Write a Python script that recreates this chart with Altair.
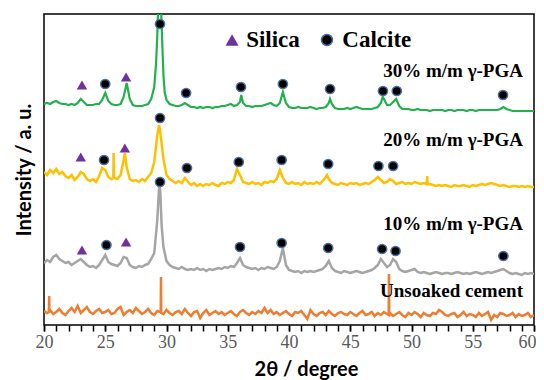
import altair as alt
import numpy as np
import pandas as pd

# 2-theta sampling grid (degrees)
grid = [round(20 + 0.25 * i, 2) for i in range(161)]

# ---- intensities (a.u., already offset per sample) ----
green_y = [
    221, 222, 221, 223, 224, 222, 221, 221, 220, 221, 220, 222, 226, 223, 220, 220, 220, 221, 221, 225,
    232, 224, 221, 220, 220, 221, 228, 242, 226, 220, 219, 219, 219, 220, 221, 226, 238, 290, 335, 250,
    225, 221, 220, 219, 219, 220, 222, 220, 218, 218, 217, 218, 217, 218, 218, 217, 218, 218, 219, 219,
    220, 221, 219, 220, 223, 222, 219, 219, 218, 219, 219, 219, 220, 221, 222, 220, 219, 222, 233, 222,
    218, 217, 217, 218, 217, 217, 217, 218, 217, 216, 217, 217, 218, 222, 221, 217, 216, 216, 216, 217,
    216, 217, 218, 217, 216, 216, 216, 216, 217, 218, 222, 226, 220, 220, 223, 226, 219, 216, 216, 216,
    215, 215, 216, 215, 215, 215, 214, 215, 215, 215, 215, 214, 215, 215, 214, 215, 215, 215, 214, 215,
    215, 214, 215, 215, 215, 215, 215, 215, 215, 216, 218, 216, 215, 214, 214, 214, 214, 214, 214, 214,
    214,
]
green_px = [29.15, 29.35, 29.45, 29.6, 29.85, 36.1, 43.35, 47.65]
green_py = [262, 330, 345, 300, 233, 230, 226, 228]

yellow_y = [
    153, 150, 155, 152, 156, 151, 153, 149, 147, 150, 145, 148, 153, 151, 146, 144, 146, 143, 149, 157,
    155, 148, 146, 147, 146, 150, 165, 158, 146, 144, 145, 143, 146, 144, 148, 152, 163, 190, 192, 166,
    150, 146, 144, 142, 144, 142, 147, 143, 140, 142, 139, 141, 139, 141, 140, 142, 140, 139, 142, 141,
    143, 142, 145, 156, 150, 143, 142, 141, 143, 141, 142, 140, 143, 142, 144, 143, 146, 155, 147, 142,
    141, 143, 141, 142, 140, 143, 141, 142, 141, 143, 141, 144, 148, 146, 142, 141, 140, 142, 141, 140,
    142, 141, 142, 140, 141, 142, 141, 143, 145, 148, 145, 142, 143, 146, 144, 141, 142, 143, 141, 142,
    141, 143, 142, 141, 142, 141, 141, 140, 139, 140, 139, 140, 139, 138, 140, 139, 139, 140, 139, 138,
    140, 139, 140, 141, 140, 141, 142, 141, 140, 139, 140, 139, 138, 139, 139, 138, 139, 138, 139, 138,
    138,
]
yellow_px = [25.66, 25.68, 25.70, 26.6, 29.4, 43.1, 51.28, 51.31]
yellow_py = [147, 172, 147, 172, 200, 150, 149, 141]

gray_y = [
    62, 65, 63, 68, 70, 66, 64, 62, 63, 60, 62, 64, 66, 63, 60, 58, 59, 57, 60, 65,
    70, 63, 61, 60, 59, 62, 68, 67, 60, 58, 57, 59, 58, 60, 61, 66, 72, 105, 132, 78,
    64, 60, 58, 57, 56, 58, 56, 55, 56, 55, 57, 55, 56, 54, 56, 55, 56, 57, 56, 58,
    57, 59, 58, 62, 67, 60, 58, 57, 56, 57, 55, 57, 56, 58, 57, 56, 58, 64, 77, 60,
    55, 54, 53, 54, 52, 54, 53, 54, 53, 54, 55, 56, 59, 64, 57, 54, 53, 52, 54, 53,
    52, 53, 54, 53, 52, 53, 54, 55, 57, 60, 66, 62, 58, 60, 66, 63, 56, 54, 53, 54,
    55, 56, 53, 52, 53, 52, 51, 52, 53, 52, 51, 52, 52, 51, 52, 53, 52, 51, 52, 51,
    52, 53, 52, 51, 52, 53, 52, 53, 54, 55, 56, 54, 52, 51, 52, 51, 50, 52, 51, 52,
    51,
]
gray_px = [29.35, 29.42, 29.6]
gray_py = [128, 142, 100]

orange_y = [
    14, 12, 15, 11, 13, 16, 12, 10, 14, 17, 13, 19, 12, 15, 18, 13, 11, 14, 16, 12,
    13, 15, 11, 12, 16, 18, 10, 13, 15, 12, 17, 14, 11, 13, 16, 12, 10, 14, 13, 11,
    15, 12, 10, 13, 14, 11, 16, 12, 9, 13, 14, 7, 12, 15, 10, 12, 14, 11, 13, 10,
    12, 14, 11, 9, 13, 15, 12, 10, 13, 11, 14, 12, 17, 12, 15, 11, 13, 10, 12, 14,
    11, 9, 13, 12, 14, 10, 6, 15, 11, 9, 12, 13, 10, 14, 11, 9, 12, 13, 11, 10,
    13, 11, 9, 12, 14, 10, 11, 13, 9, 12, 10, 13, 11, 12, 9, 11, 13, 10, 8, 12,
    10, 13, 11, 8, 12, 10, 9, 12, 11, 15, 13, 10, 9, 11, 12, 8, 10, 13, 9, 11,
    10, 8, 12, 9, 11, 13, 5, 10, 8, 12, 11, 9, 10, 12, 8, 11, 9, 10, 12, 8,
    10,
]
orange_px = [20.40, 20.42, 20.44, 29.53, 29.55, 29.57, 48.14, 48.16, 48.18]
orange_py = [13, 29, 13, 13, 48, 12, 10, 51, 9]

samples = ["30% m/m γ-PGA", "20% m/m γ-PGA", "10% m/m γ-PGA", "Unsoaked cement"]
colors = ["#22B14C", "#FFC000", "#A5A5A5", "#ED7D31"]
widths = [2.2, 2.5, 2.5, 2.5]

# axis ticks
major_ticks = [20, 25, 30, 35, 40, 45, 50, 55, 60]
minor_ticks = list(range(20, 61))

# peak markers
silica_x = [23.1, 26.7, 23.0, 26.6, 23.1, 26.7]
silica_y = [240, 248, 168, 177, 75, 83]
calcite_x = [25.0, 29.47, 31.6, 36.08, 39.5, 43.35, 47.67, 48.8, 57.47,
             24.9, 29.47, 31.67, 35.9, 39.4, 43.2, 47.3, 48.5,
             25.1, 29.47, 36.0, 39.4, 43.2, 47.6, 48.7, 57.5]
calcite_y = [241, 301, 232, 238, 241, 236, 234, 234, 230,
             165, 207, 157, 163, 165, 161, 159, 159,
             80, 143, 78, 82, 77, 76, 74, 69]

label_x = [59.1, 59.1, 59.1, 59.1]
label_y = [254, 185, 101, 34]

legend_names = ["Silica", "Calcite"]
legend_sym_x = [35.35, 43.1]
legend_txt_x = [36.5, 44.35]
legend_y = [285, 285]

# ---- build tables ----
frames = []
for name, base, px, py, w in [
    (samples[0], green_y, green_px, green_py, widths[0]),
    (samples[1], yellow_y, yellow_px, yellow_py, widths[1]),
    (samples[2], gray_y, gray_px, gray_py, widths[2]),
    (samples[3], orange_y, orange_px, orange_py, widths[3]),
]:
    df = pd.DataFrame({"theta": grid + px, "intensity": base + py, "sample": name, "w": w})
    frames.append(df.sort_values("theta"))
lines_df = pd.concat(frames, ignore_index=True)

sil_df = pd.DataFrame({"theta": silica_x, "intensity": silica_y})
cal_df = pd.DataFrame({"theta": calcite_x, "intensity": calcite_y})
lab_df = pd.DataFrame({"theta": label_x, "intensity": label_y, "text": samples})
leg_sym_df = pd.DataFrame({"theta": legend_sym_x, "intensity": legend_y, "name": legend_names})
leg_txt_df = pd.DataFrame({"theta": legend_txt_x, "intensity": legend_y, "name": legend_names})

xscale = alt.Scale(domain=[20, 60], nice=False, zero=False)
yscale = alt.Scale(domain=[0, 311], nice=False, zero=False)

major_axis = alt.Axis(
    values=major_ticks, orient="bottom",
    labelOverlap=False, labelFlush=False,
    labelOffset={"condition": {"test": "datum.value === 60", "value": -7}, "value": 0},
    tickSize=6, tickColor="#000", tickWidth=1.5,
    domain=False, grid=False,
    labelFont="Liberation Serif", labelFontSize=18, labelColor="#595959", labelPadding=2,
    title="2θ / degree", titleFont="Lato", titleFontSize=20, titleFontWeight="bold",
    titleColor="#000", titleX=262, titlePadding=8,
)
minor_axis = alt.Axis(
    values=minor_ticks, orient="bottom", labels=False, tickSize=6, tickColor="#000",
    tickWidth=1.5, domain=False, grid=False, title=None,
)
y_axis = alt.Axis(
    labels=False, ticks=False, domain=False, grid=False,
    title="Intensity / a. u.", titleFont="Lato", titleFontSize=20, titleFontWeight="bold",
    titleColor="#000", titlePadding=10,
)

Y = alt.Y("intensity:Q", scale=yscale, axis=y_axis)
Xn = alt.X("theta:Q", scale=xscale, axis=None)
Yn = alt.Y("intensity:Q", scale=yscale)

lines = alt.Chart(lines_df).mark_line(clip=True).encode(
    x=alt.X("theta:Q", scale=xscale, axis=major_axis), y=Y,
    color=alt.Color("sample:N", scale=alt.Scale(domain=samples, range=colors), legend=None),
    strokeWidth=alt.StrokeWidth("w:Q", scale=None, legend=None),
    detail="sample:N",
)

tri = alt.Chart(sil_df).mark_point(shape="triangle-up", filled=True, color="#7030A0",
                                   size=110, opacity=1).encode(
    x=alt.X("theta:Q", scale=xscale, axis=minor_axis), y=Yn)
circ = alt.Chart(cal_df).mark_point(shape="circle", filled=True, fill="#000", stroke="#4A6FA5",
                                    strokeWidth=1.5, size=85, opacity=1).encode(x=Xn, y=Yn)

labels = alt.Chart(lab_df).mark_text(align="right", baseline="middle", font="Liberation Serif",
                                     fontWeight="bold", fontSize=19, color="#000").encode(
    x=Xn, y=Yn, text="text:N")

leg_tri = alt.Chart(leg_sym_df[leg_sym_df["name"] == "Silica"]).mark_point(
    shape="triangle-up", filled=True, color="#7030A0", size=170, opacity=1).encode(x=Xn, y=Yn)
leg_circ = alt.Chart(leg_sym_df[leg_sym_df["name"] == "Calcite"]).mark_point(
    shape="circle", filled=True, fill="#000", stroke="#4A6FA5", strokeWidth=1.5,
    size=120, opacity=1).encode(x=Xn, y=Yn)
leg_txt = alt.Chart(leg_txt_df).mark_text(align="left", baseline="middle", font="Liberation Serif",
                                          fontWeight="bold", fontSize=23, color="#000").encode(
    x=Xn, y=Yn, text="name:N")

chart = alt.layer(lines, tri, circ, labels, leg_tri, leg_circ, leg_txt).resolve_axis(
    x="independent"
).properties(
    width=490, height=311,
    autosize=alt.AutoSizeParams(type="none"),
    padding={"left": 36, "top": 6, "right": 2, "bottom": 55},
).configure_view(stroke="#000", strokeWidth=1.5)

chart.save("out.html", embed_options={"renderer": "svg", "actions": False})
